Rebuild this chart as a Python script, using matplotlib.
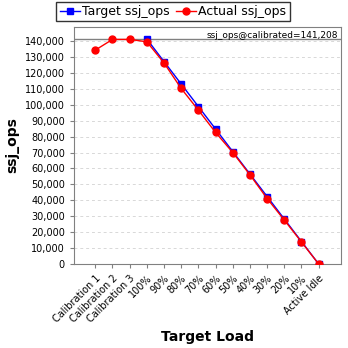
import numpy as np
import matplotlib
matplotlib.use("Agg")
import matplotlib.pyplot as plt
from matplotlib.ticker import FuncFormatter, MultipleLocator

labels = ["Calibration 1", "Calibration 2", "Calibration 3", "100%", "90%", "80%",
          "70%", "60%", "50%", "40%", "30%", "20%", "10%", "Active Idle"]
target = [None, None, None, 141208, 127087, 112966, 98846, 84725, 70604,
          56483, 42362, 28242, 14121, 0]
actual = [134300, 141000, 141000, 139500, 126200, 110200, 96600, 82600, 70000,
          56000, 41100, 27600, 13800, 0]
calibrated = 141208

fig = plt.figure(figsize=(3.48, 3.48), dpi=100)
ax = fig.add_axes([74/348, 1-264/348, (341-74)/348, (264-27)/348])

x = np.arange(len(labels))
tx = [i for i, v in enumerate(target) if v is not None]
ty = [v for v in target if v is not None]

ax.axhline(calibrated, color="#808080", lw=1, zorder=1)
ax.plot(tx, ty, color="blue", marker="s", ms=5, lw=1, label="Target ssj_ops", zorder=3)
ax.plot(x, actual, color="red", marker="o", ms=5, lw=1, label="Actual ssj_ops", zorder=4)

ax.set_xlim(-1.24, 14.3)
ax.set_ylim(0, 148800)
ax.yaxis.set_major_locator(MultipleLocator(10000))
ax.yaxis.set_major_formatter(FuncFormatter(lambda v, p: f"{int(v):,}"))
ax.set_xticks(x)
ax.set_xticklabels(labels, rotation=45, ha="right", rotation_mode="anchor", fontsize=7)
ax.tick_params(axis="y", labelsize=7, length=3, color="#808080")
ax.tick_params(axis="x", length=3, color="#808080")
ax.grid(axis="y", color="#d8d8d8", ls=(0, (3, 3)), lw=0.7)
for s in ax.spines.values():
    s.set_color("#808080")

ax.set_xlabel("Target Load", fontsize=10, fontweight="bold", labelpad=4)
ax.set_ylabel("ssj_ops", fontsize=10, fontweight="bold", labelpad=4)
ax.text(0.99, 0.985, f"ssj_ops@calibrated={calibrated:,}", transform=ax.transAxes,
        ha="right", va="top", fontsize=6.5)

leg = fig.legend(loc="upper center", bbox_to_anchor=(0.497, 1.0), ncol=2, fontsize=9,
                 frameon=True, fancybox=False, edgecolor="black", handlelength=1.6,
                 borderpad=0.25, columnspacing=0.5, handletextpad=0.2,
                 borderaxespad=0.15)
leg.get_frame().set_linewidth(1)

fig.savefig("out.png", dpi=100)
